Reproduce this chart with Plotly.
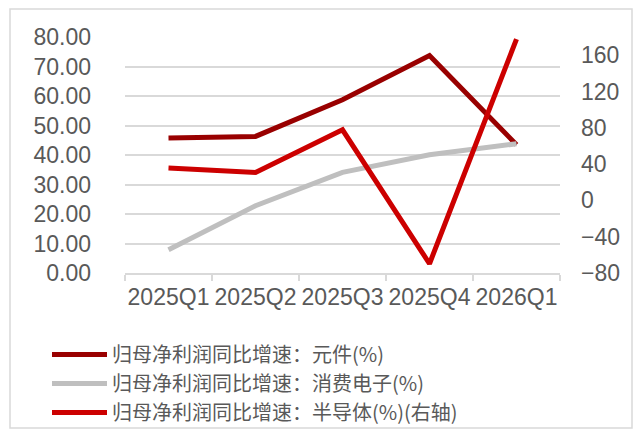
import plotly.graph_objects as go

categories = ["2025Q1", "2025Q2", "2025Q3", "2025Q4", "2026Q1"]
yuanjian = [45.8, 46.3, 58.7, 73.7, 43.5]
xiaofei = [7.9, 22.8, 34.1, 40.1, 43.8]
bandaoti = [35.6, 30.8, 77.8, -69.8, 177.7]

names = [
    "归母净利润同比增速：元件(%)",
    "归母净利润同比增速：消费电子(%)",
    "归母净利润同比增速：半导体(%)(右轴)",
]
colors = ["#990000", "#BFBFBF", "#CC0000"]

W, H = 641, 431
L, R, T, B = 125, 81, 37, 158
pw, ph = W - L - R, H - T - B

def px_x(px):
    return (px - L) / pw

def px_y(py):
    return (H - B - py) / ph

fig = go.Figure()
fig.add_trace(go.Scatter(x=categories, y=yuanjian, name=names[0], mode="lines",
                         line=dict(color=colors[0], width=5), legend="legend"))
fig.add_trace(go.Scatter(x=categories, y=xiaofei, name=names[1], mode="lines",
                         line=dict(color=colors[1], width=5), legend="legend2"))
fig.add_trace(go.Scatter(x=categories, y=bandaoti, name=names[2], mode="lines",
                         line=dict(color=colors[2], width=5), yaxis="y2",
                         legend="legend3"))

tick_font = dict(family="Liberation Sans", size=23, color="#595959")

def leg(top_px):
    return dict(
        orientation="v",
        x=px_x(47), xanchor="left",
        y=px_y(top_px), yanchor="top",
        font=dict(family="Noto Sans CJK SC", size=20, color="#595959"),
        itemwidth=55,
        bgcolor="rgba(0,0,0,0)",
    )

fig.update_layout(
    width=W, height=H,
    margin=dict(l=L, r=R, t=T, b=B, pad=0, autoexpand=False),
    paper_bgcolor="white", plot_bgcolor="white",
    showlegend=True,
    legend=leg(335),
    legend2=leg(364),
    legend3=leg(393),
    xaxis=dict(
        type="category",
        tickfont=tick_font,
        tickangle=0,
        automargin=False,
        showgrid=False,
        showline=True, linecolor="#D9D9D9", linewidth=1.5,
        ticks="outside", tickson="boundaries", ticklen=6,
        tickcolor="#D9D9D9", tickwidth=1.5,
        ticklabelstandoff=3,
        range=[-0.5, 4.5],
        zeroline=False,
    ),
    yaxis=dict(
        range=[0, 80], dtick=10, tick0=0,
        tickformat=".2f",
        tickfont=tick_font,
        automargin=False,
        showgrid=True, gridcolor="#D9D9D9", gridwidth=1.5,
        zeroline=False, showline=False,
        ticks="", ticklabelstandoff=33,
    ),
    yaxis2=dict(
        overlaying="y", side="right",
        range=[-80, 180], dtick=40, tick0=-80,
        tickfont=tick_font,
        automargin=False,
        showgrid=False, zeroline=False, showline=False,
        ticks="", ticklabelstandoff=20,
    ),
    shapes=[dict(
        type="rect", xref="paper", yref="paper",
        x0=px_x(10), x1=px_x(632), y0=px_y(428), y1=px_y(9),
        line=dict(color="#D9D9D9", width=1.5), fillcolor="rgba(0,0,0,0)",
        layer="below",
    )],
)

fig.write_html("out.html")
